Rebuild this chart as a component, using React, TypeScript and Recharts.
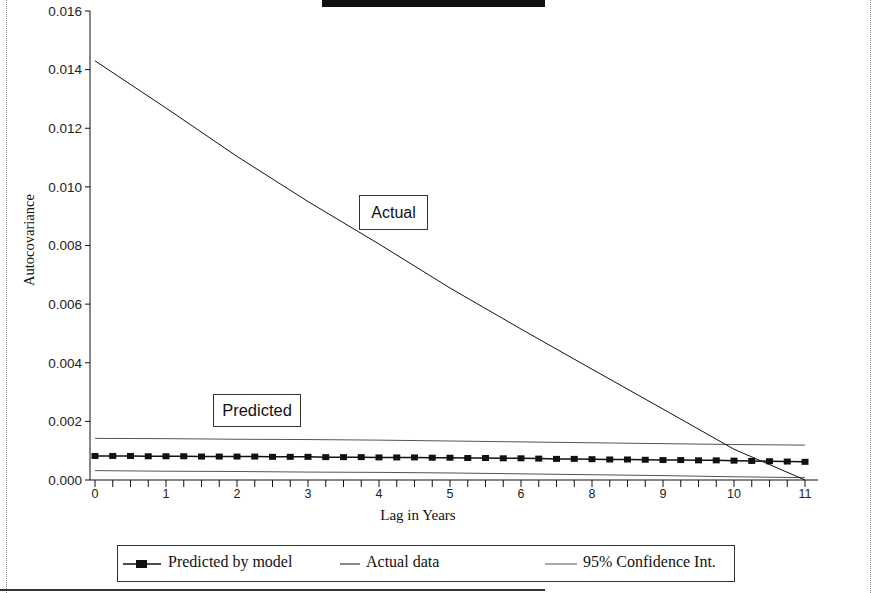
import { LineChart, Line, XAxis, YAxis } from "recharts";

// lag positions of the model points (quarters)
const quarterLags = [
  0, 0.25, 0.5, 0.75, 1, 1.25, 1.5, 1.75, 2, 2.25, 2.5, 2.75, 3, 3.25, 3.5, 3.75, 4,
  4.25, 4.5, 4.75, 5, 5.25, 5.5, 5.75, 6, 6.25, 6.5, 6.75, 7, 7.25, 7.5, 7.75, 8,
  8.25, 8.5, 8.75, 9, 9.25, 9.5, 9.75, 10,
];

const predictedValues = [
  0.00082, 0.00082, 0.00082, 0.00081, 0.00081,
  0.00081, 0.0008, 0.0008, 0.0008,
  0.0008, 0.00079, 0.00079, 0.00079,
  0.00078, 0.00078, 0.00078, 0.00077,
  0.00077, 0.00077, 0.00076, 0.00076,
  0.00075, 0.00075, 0.00074, 0.00074,
  0.00073, 0.00072, 0.00072, 0.00071,
  0.0007, 0.0007, 0.00069, 0.00068,
  0.00068, 0.00067, 0.00067, 0.00066,
  0.00065, 0.00064, 0.00063, 0.00062,
];

const yearLags = [0, 1, 2, 3, 4, 5, 6, 7, 8, 9, 10];
const actualValues = [0.0143, 0.01269, 0.01104, 0.0095, 0.00805, 0.00655, 0.00515, 0.00378, 0.00242, 0.00105, 0.0];
const upperCI = [0.00142, 0.00141, 0.00139, 0.00138, 0.00136, 0.00133, 0.0013, 0.00127, 0.00124, 0.00121, 0.00119];
const lowerCI = [0.00032, 0.0003, 0.00029, 0.00027, 0.00026, 0.00024, 0.00021, 0.00018, 0.00015, 0.00011, 0.00008];

const xTickLabels = ["0", "1", "2", "3", "4", "5", "6", "8", "9", "10", "11"];
const yTicks = [0, 0.002, 0.004, 0.006, 0.008, 0.01, 0.012, 0.014, 0.016];

const predictedData = quarterLags.map((lag, i) => ({ lag, value: predictedValues[i] }));
const actualData = yearLags.map((lag, i) => ({ lag, value: actualValues[i] }));
const upperData = yearLags.map((lag, i) => ({ lag, value: upperCI[i] }));
const lowerData = yearLags.map((lag, i) => ({ lag, value: lowerCI[i] }));

const SANS = "'Liberation Sans', Arial, sans-serif";
const SERIF = "'Liberation Serif', 'Times New Roman', serif";

const XTick = (props: any) => {
  const { x, y, payload } = props;
  if (!Number.isInteger(payload.value)) return <g />;
  return (
    <text x={x} y={y} dy={9} textAnchor="middle" fontFamily={SANS} fontSize={12.5} fill="#222">
      {xTickLabels[payload.value]}
    </text>
  );
};

const SquareDot = (props: any) => {
  const { cx, cy } = props;
  if (cx == null || cy == null) return <g />;
  return <rect x={cx - 3.5} y={cy - 3} width={7} height={6} fill="#111" />;
};

const boxStyle: React.CSSProperties = {
  position: "absolute",
  border: "1px solid #333",
  background: "#fff",
  fontFamily: SANS,
  fontSize: 16,
  color: "#111",
  display: "flex",
  alignItems: "center",
  justifyContent: "center",
  boxSizing: "border-box",
};

export default function App() {
  return (
    <div style={{ position: "absolute", left: 0, top: 0, width: 873, height: 593, background: "#fff", overflow: "hidden" }}>
      {/* cut-off title bar */}
      <div style={{ position: "absolute", left: 322, top: 0, width: 223, height: 7, background: "#111" }} />
      {/* page edges from the scan */}
      <div style={{ position: "absolute", left: 6, top: 0, width: 0, height: 593, borderLeft: "1px dotted #888" }} />
      <div style={{ position: "absolute", left: 870, top: 0, width: 0, height: 593, borderLeft: "1px dotted #888" }} />
      <div style={{ position: "absolute", left: 0, top: 589, width: 545, height: 2, background: "#333" }} />

      <LineChart width={873} height={593} margin={{ top: 11, right: 55, left: 0, bottom: 68 }}>
        <XAxis
          dataKey="lag"
          type="number"
          domain={[0, 10]}
          ticks={quarterLags}
          interval={0}
          padding={{ left: 5, right: 13 }}
          height={45}
          tickSize={7}
          tickMargin={2}
          tick={<XTick />}
          stroke="#111"
          label={{
            content: () => (
              <text x={418} y={520} textAnchor="middle" fontFamily={SERIF} fontSize={15} fill="#111">
                Lag in Years
              </text>
            ),
          }}
        />
        <XAxis xAxisId="top" orientation="top" type="number" domain={[0, 10]} height={0} tick={false} tickLine={false} stroke="#111" />
        <YAxis
          type="number"
          domain={[0, 0.016]}
          ticks={yTicks}
          width={90}
          tickSize={5}
          tickMargin={3}
          tickFormatter={(v: number) => v.toFixed(3)}
          tick={{ fontFamily: SANS, fontSize: 13.5, fill: "#222" }}
          stroke="#111"
          label={{
            content: () => (
              <text x={34} y={240} transform="rotate(-90 34 240)" textAnchor="middle" fontFamily={SERIF} fontSize={14.5} fill="#111">
                Autocovariance
              </text>
            ),
          }}
        />
        <YAxis yAxisId="right" orientation="right" type="number" domain={[0, 0.016]} width={0} tick={false} tickLine={false} stroke="#111" />

        <Line data={upperData} dataKey="value" type="linear" stroke="#555" strokeWidth={1} dot={false} isAnimationActive={false} />
        <Line data={lowerData} dataKey="value" type="linear" stroke="#555" strokeWidth={1} dot={false} isAnimationActive={false} />
        <Line data={actualData} dataKey="value" type="linear" stroke="#111" strokeWidth={1} dot={false} isAnimationActive={false} />
        <Line
          data={predictedData}
          dataKey="value"
          type="linear"
          stroke="#111"
          strokeWidth={1.5}
          dot={<SquareDot />}
          isAnimationActive={false}
        />
      </LineChart>

      <div style={{ ...boxStyle, left: 359, top: 195, width: 69, height: 35 }}>Actual</div>
      <div style={{ ...boxStyle, left: 213, top: 394, width: 88, height: 33, fontSize: 16.5 }}>Predicted</div>

      {/* legend */}
      <div
        style={{
          position: "absolute",
          left: 117,
          top: 545,
          width: 618,
          height: 37,
          border: "1px solid #333",
          boxSizing: "border-box",
          fontFamily: SERIF,
          fontSize: 16,
          color: "#111",
        }}
      >
        <svg style={{ position: "absolute", left: 4, top: 12 }} width={40} height={12}>
          <line x1={1} y1={6} x2={39} y2={6} stroke="#111" strokeWidth={1.5} />
          <rect x={14} y={2} width={11} height={8} fill="#111" />
        </svg>
        <span style={{ position: "absolute", left: 50, top: 7 }}>Predicted by model</span>
        <svg style={{ position: "absolute", left: 222, top: 12 }} width={20} height={12}>
          <line x1={0} y1={6} x2={20} y2={6} stroke="#111" strokeWidth={1} />
        </svg>
        <span style={{ position: "absolute", left: 248, top: 7 }}>Actual data</span>
        <svg style={{ position: "absolute", left: 427, top: 12 }} width={32} height={12}>
          <line x1={0} y1={6} x2={32} y2={6} stroke="#555" strokeWidth={1} />
        </svg>
        <span style={{ position: "absolute", left: 465, top: 7 }}>95% Confidence Int.</span>
      </div>
    </div>
  );
}
